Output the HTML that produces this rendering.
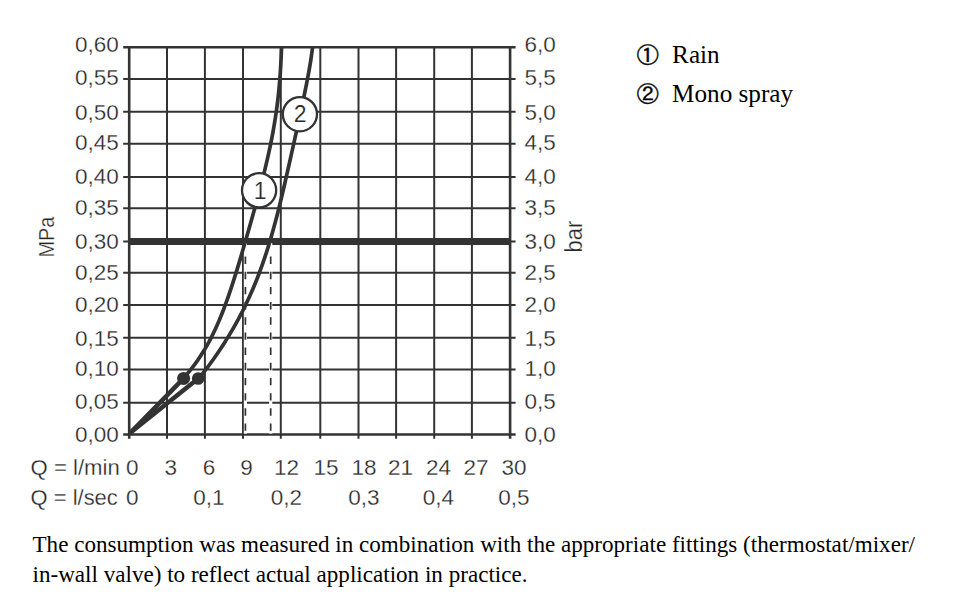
<!DOCTYPE html>
<html><head><meta charset="utf-8"><title>Chart</title>
<style>
html,body{margin:0;padding:0;background:#fff;width:960px;height:612px;overflow:hidden;position:relative}
.lg{position:absolute;left:636.6px;font-family:'Liberation Serif','DejaVu Serif',serif;font-size:25.2px;color:#000;white-space:nowrap;line-height:1}
.lg .n{display:inline-block;width:35.5px;font-family:'IPAGothic','Noto Sans CJK JP',sans-serif;font-size:22px;-webkit-text-stroke:0.4px #111}
.p{position:absolute;left:32.5px;top:528.9px;width:920px;font-family:'Liberation Serif','DejaVu Serif',serif;font-size:23.1px;line-height:30.4px;color:#000;margin:0}
</style></head><body>
<svg width="960" height="612" viewBox="0 0 960 612" style="position:absolute;left:0;top:0"><line x1="167.00" y1="47.30" x2="167.00" y2="438.85" stroke="#333" stroke-width="2"/><line x1="204.90" y1="47.30" x2="204.90" y2="438.85" stroke="#333" stroke-width="2"/><line x1="243.00" y1="47.30" x2="243.00" y2="438.85" stroke="#333" stroke-width="2"/><line x1="280.80" y1="47.30" x2="280.80" y2="438.85" stroke="#333" stroke-width="2"/><line x1="320.30" y1="47.30" x2="320.30" y2="438.85" stroke="#333" stroke-width="2"/><line x1="358.50" y1="47.30" x2="358.50" y2="438.85" stroke="#333" stroke-width="2"/><line x1="396.10" y1="47.30" x2="396.10" y2="438.85" stroke="#333" stroke-width="2"/><line x1="434.20" y1="47.30" x2="434.20" y2="438.85" stroke="#333" stroke-width="2"/><line x1="471.90" y1="47.30" x2="471.90" y2="438.85" stroke="#333" stroke-width="2"/><line x1="123.20" y1="78.90" x2="515.60" y2="78.90" stroke="#333" stroke-width="2"/><line x1="123.20" y1="111.80" x2="515.60" y2="111.80" stroke="#333" stroke-width="2"/><line x1="123.20" y1="143.70" x2="515.60" y2="143.70" stroke="#333" stroke-width="2"/><line x1="123.20" y1="176.90" x2="515.60" y2="176.90" stroke="#333" stroke-width="2"/><line x1="123.20" y1="208.20" x2="515.60" y2="208.20" stroke="#333" stroke-width="2"/><line x1="123.20" y1="241.50" x2="515.60" y2="241.50" stroke="#333" stroke-width="2"/><line x1="123.20" y1="272.80" x2="515.60" y2="272.80" stroke="#333" stroke-width="2"/><line x1="123.20" y1="305.00" x2="515.60" y2="305.00" stroke="#333" stroke-width="2"/><line x1="123.20" y1="337.80" x2="515.60" y2="337.80" stroke="#333" stroke-width="2"/><line x1="123.20" y1="369.60" x2="515.60" y2="369.60" stroke="#333" stroke-width="2"/><line x1="123.20" y1="402.80" x2="515.60" y2="402.80" stroke="#333" stroke-width="2"/><line x1="123.20" y1="47.30" x2="515.60" y2="47.30" stroke="#333" stroke-width="2.6"/><line x1="123.20" y1="434.55" x2="515.60" y2="434.55" stroke="#333" stroke-width="2.6"/><line x1="129.20" y1="46.00" x2="129.20" y2="438.85" stroke="#333" stroke-width="2.6"/><line x1="510.10" y1="46.00" x2="510.10" y2="438.85" stroke="#333" stroke-width="2.6"/><line x1="129.20" y1="241.5" x2="510.10" y2="241.5" stroke="#333" stroke-width="6.8"/><line x1="245.4" y1="243" x2="245.4" y2="433.6" stroke="#fff" stroke-width="3.2"/><line x1="245.4" y1="256.6" x2="245.4" y2="434.55" stroke="#333" stroke-width="1.7" stroke-dasharray="7.4 7.77"/><line x1="270.7" y1="243" x2="270.7" y2="433.6" stroke="#fff" stroke-width="3.2"/><line x1="270.7" y1="256.6" x2="270.7" y2="434.55" stroke="#333" stroke-width="1.7" stroke-dasharray="7.4 7.77"/><path d="M130.6,432.6 L183.6,378.4" stroke="#333" stroke-width="4.5" fill="none" stroke-linecap="round"/><path d="M130.6,432.6 L198.2,378.5" stroke="#333" stroke-width="4.5" fill="none" stroke-linecap="round"/><path d="M281.56,47.60 L281.44,50.61 L281.31,53.61 L281.18,56.62 L281.03,59.63 L280.88,62.64 L280.72,65.64 L280.54,68.65 L280.35,71.66 L280.15,74.67 L279.93,77.67 L279.70,80.68 L279.45,83.69 L279.19,86.69 L278.90,89.70 L278.60,92.71 L278.28,95.72 L277.95,98.72 L277.59,101.73 L277.22,104.74 L276.82,107.75 L276.41,110.75 L275.98,113.76 L275.53,116.77 L275.06,119.77 L274.57,122.78 L274.07,125.79 L273.55,128.80 L273.01,131.80 L272.45,134.81 L271.87,137.82 L271.28,140.83 L270.68,143.83 L270.05,146.84 L269.41,149.85 L268.76,152.85 L268.09,155.86 L267.41,158.87 L266.72,161.88 L266.01,164.88 L265.29,167.89 L264.57,170.90 L263.82,173.91 L263.07,176.91 L262.31,179.92 L261.54,182.93 L260.76,185.93 L259.98,188.94 L259.18,191.95 L258.38,194.96 L257.57,197.96 L256.76,200.97 L255.94,203.98 L255.12,206.99 L254.29,209.99 L253.45,213.00 L252.61,216.01 L251.77,219.01 L250.92,222.02 L250.07,225.03 L249.22,228.04 L248.36,231.04 L247.50,234.05 L246.64,237.06 L245.78,240.07 L244.91,243.07 L244.03,246.08 L243.15,249.09 L242.27,252.09 L241.39,255.10 L240.49,258.11 L239.60,261.12 L238.69,264.12 L237.78,267.13 L236.87,270.14 L235.94,273.15 L235.00,276.15 L234.05,279.16 L233.10,282.17 L232.12,285.17 L231.14,288.18 L230.13,291.19 L229.11,294.20 L228.08,297.20 L227.02,300.21 L225.93,303.22 L224.83,306.23 L223.69,309.23 L222.53,312.24 L221.33,315.25 L220.10,318.25 L218.84,321.26 L217.53,324.27 L216.19,327.28 L214.79,330.28 L213.35,333.29 L211.86,336.30 L210.31,339.31 L208.70,342.31 L207.03,345.32 L205.30,348.33 L203.49,351.33 L201.61,354.34 L199.65,357.35 L197.61,360.36 L195.47,363.36 L193.25,366.37 L190.92,369.38 L188.49,372.39 L185.96,375.39 L183.30,378.40" stroke="#333" stroke-width="3.7" fill="none" stroke-linejoin="round"/><path d="M312.51,47.60 L312.14,50.61 L311.74,53.62 L311.31,56.62 L310.86,59.63 L310.39,62.64 L309.89,65.65 L309.38,68.66 L308.85,71.67 L308.30,74.67 L307.74,77.68 L307.17,80.69 L306.59,83.70 L305.99,86.71 L305.38,89.71 L304.77,92.72 L304.15,95.73 L303.52,98.74 L302.89,101.75 L302.25,104.76 L301.60,107.76 L300.95,110.77 L300.30,113.78 L299.65,116.79 L298.99,119.80 L298.33,122.80 L297.67,125.81 L297.01,128.82 L296.35,131.83 L295.68,134.84 L295.02,137.85 L294.35,140.85 L293.69,143.86 L293.02,146.87 L292.35,149.88 L291.68,152.89 L291.02,155.89 L290.35,158.90 L289.67,161.91 L289.00,164.92 L288.33,167.93 L287.65,170.94 L286.97,173.94 L286.29,176.95 L285.60,179.96 L284.91,182.97 L284.21,185.98 L283.51,188.98 L282.81,191.99 L282.10,195.00 L281.38,198.01 L280.66,201.02 L279.92,204.03 L279.18,207.03 L278.43,210.04 L277.67,213.05 L276.90,216.06 L276.12,219.07 L275.32,222.07 L274.51,225.08 L273.69,228.09 L272.86,231.10 L272.01,234.11 L271.14,237.12 L270.26,240.12 L269.36,243.13 L268.44,246.14 L267.50,249.15 L266.54,252.16 L265.56,255.16 L264.56,258.17 L263.53,261.18 L262.48,264.19 L261.41,267.20 L260.32,270.21 L259.19,273.21 L258.05,276.22 L256.87,279.23 L255.67,282.24 L254.43,285.25 L253.17,288.25 L251.88,291.26 L250.55,294.27 L249.20,297.28 L247.81,300.29 L246.39,303.30 L244.94,306.30 L243.45,309.31 L241.93,312.32 L240.37,315.33 L238.78,318.34 L237.15,321.34 L235.48,324.35 L233.78,327.36 L232.04,330.37 L230.26,333.38 L228.45,336.39 L226.59,339.39 L224.70,342.40 L222.76,345.41 L220.79,348.42 L218.78,351.43 L216.73,354.43 L214.64,357.44 L212.51,360.45 L210.34,363.46 L208.14,366.47 L205.89,369.48 L203.60,372.48 L201.28,375.49 L198.92,378.50" stroke="#333" stroke-width="3.7" fill="none" stroke-linejoin="round"/><circle cx="183.6" cy="378.4" r="6.5" fill="#333"/><circle cx="198.2" cy="378.5" r="6.3" fill="#333"/><circle cx="259.1" cy="190.3" r="17.1" fill="#fff" stroke="#333" stroke-width="2.3"/><text x="260.1" y="198.5" text-anchor="middle" font-family="'Liberation Sans', 'DejaVu Sans', sans-serif" font-size="23" fill="#2a2a2a" stroke="#fff" stroke-width="0.2">1</text><circle cx="299.9" cy="114.2" r="17.1" fill="#fff" stroke="#333" stroke-width="2.3"/><text x="300.2" y="122.4" text-anchor="middle" font-family="'Liberation Sans', 'DejaVu Sans', sans-serif" font-size="23" fill="#2a2a2a" stroke="#fff" stroke-width="0.2">2</text><text x="118.9" y="52.40" text-anchor="end" font-family="'Liberation Sans', 'DejaVu Sans', sans-serif" font-size="22.5" fill="#262626" stroke="#fff" stroke-width="0.28">0,60</text><text x="118.9" y="84.60" text-anchor="end" font-family="'Liberation Sans', 'DejaVu Sans', sans-serif" font-size="22.5" fill="#262626" stroke="#fff" stroke-width="0.28">0,55</text><text x="118.9" y="119.55" text-anchor="end" font-family="'Liberation Sans', 'DejaVu Sans', sans-serif" font-size="22.5" fill="#262626" stroke="#fff" stroke-width="0.28">0,50</text><text x="118.9" y="150.05" text-anchor="end" font-family="'Liberation Sans', 'DejaVu Sans', sans-serif" font-size="22.5" fill="#262626" stroke="#fff" stroke-width="0.28">0,45</text><text x="118.9" y="183.90" text-anchor="end" font-family="'Liberation Sans', 'DejaVu Sans', sans-serif" font-size="22.5" fill="#262626" stroke="#fff" stroke-width="0.28">0,40</text><text x="118.9" y="214.55" text-anchor="end" font-family="'Liberation Sans', 'DejaVu Sans', sans-serif" font-size="22.5" fill="#262626" stroke="#fff" stroke-width="0.28">0,35</text><text x="118.9" y="248.90" text-anchor="end" font-family="'Liberation Sans', 'DejaVu Sans', sans-serif" font-size="22.5" fill="#262626" stroke="#fff" stroke-width="0.28">0,30</text><text x="118.9" y="280.10" text-anchor="end" font-family="'Liberation Sans', 'DejaVu Sans', sans-serif" font-size="22.5" fill="#262626" stroke="#fff" stroke-width="0.28">0,25</text><text x="118.9" y="311.70" text-anchor="end" font-family="'Liberation Sans', 'DejaVu Sans', sans-serif" font-size="22.5" fill="#262626" stroke="#fff" stroke-width="0.28">0,20</text><text x="118.9" y="346.30" text-anchor="end" font-family="'Liberation Sans', 'DejaVu Sans', sans-serif" font-size="22.5" fill="#262626" stroke="#fff" stroke-width="0.28">0,15</text><text x="118.9" y="376.40" text-anchor="end" font-family="'Liberation Sans', 'DejaVu Sans', sans-serif" font-size="22.5" fill="#262626" stroke="#fff" stroke-width="0.28">0,10</text><text x="118.9" y="408.80" text-anchor="end" font-family="'Liberation Sans', 'DejaVu Sans', sans-serif" font-size="22.5" fill="#262626" stroke="#fff" stroke-width="0.28">0,05</text><text x="118.9" y="442.05" text-anchor="end" font-family="'Liberation Sans', 'DejaVu Sans', sans-serif" font-size="22.5" fill="#262626" stroke="#fff" stroke-width="0.28">0,00</text><text x="524.4" y="52.40" font-family="'Liberation Sans', 'DejaVu Sans', sans-serif" font-size="22.5" fill="#262626" stroke="#fff" stroke-width="0.28">6,0</text><text x="524.4" y="84.60" font-family="'Liberation Sans', 'DejaVu Sans', sans-serif" font-size="22.5" fill="#262626" stroke="#fff" stroke-width="0.28">5,5</text><text x="524.4" y="119.55" font-family="'Liberation Sans', 'DejaVu Sans', sans-serif" font-size="22.5" fill="#262626" stroke="#fff" stroke-width="0.28">5,0</text><text x="524.4" y="150.05" font-family="'Liberation Sans', 'DejaVu Sans', sans-serif" font-size="22.5" fill="#262626" stroke="#fff" stroke-width="0.28">4,5</text><text x="524.4" y="183.90" font-family="'Liberation Sans', 'DejaVu Sans', sans-serif" font-size="22.5" fill="#262626" stroke="#fff" stroke-width="0.28">4,0</text><text x="524.4" y="214.55" font-family="'Liberation Sans', 'DejaVu Sans', sans-serif" font-size="22.5" fill="#262626" stroke="#fff" stroke-width="0.28">3,5</text><text x="524.4" y="248.90" font-family="'Liberation Sans', 'DejaVu Sans', sans-serif" font-size="22.5" fill="#262626" stroke="#fff" stroke-width="0.28">3,0</text><text x="524.4" y="280.10" font-family="'Liberation Sans', 'DejaVu Sans', sans-serif" font-size="22.5" fill="#262626" stroke="#fff" stroke-width="0.28">2,5</text><text x="524.4" y="311.70" font-family="'Liberation Sans', 'DejaVu Sans', sans-serif" font-size="22.5" fill="#262626" stroke="#fff" stroke-width="0.28">2,0</text><text x="524.4" y="346.30" font-family="'Liberation Sans', 'DejaVu Sans', sans-serif" font-size="22.5" fill="#262626" stroke="#fff" stroke-width="0.28">1,5</text><text x="524.4" y="376.40" font-family="'Liberation Sans', 'DejaVu Sans', sans-serif" font-size="22.5" fill="#262626" stroke="#fff" stroke-width="0.28">1,0</text><text x="524.4" y="408.80" font-family="'Liberation Sans', 'DejaVu Sans', sans-serif" font-size="22.5" fill="#262626" stroke="#fff" stroke-width="0.28">0,5</text><text x="524.4" y="442.05" font-family="'Liberation Sans', 'DejaVu Sans', sans-serif" font-size="22.5" fill="#262626" stroke="#fff" stroke-width="0.28">0,0</text><text x="30.6" y="474.6" textLength="89.2" lengthAdjust="spacingAndGlyphs" font-family="'Liberation Sans', 'DejaVu Sans', sans-serif" font-size="22.5" fill="#262626" stroke="#fff" stroke-width="0.28">Q = l/min</text><text x="132.3" y="474.6" text-anchor="middle" font-family="'Liberation Sans', 'DejaVu Sans', sans-serif" font-size="22.5" fill="#262626" stroke="#fff" stroke-width="0.28">0</text><text x="170.8" y="474.6" text-anchor="middle" font-family="'Liberation Sans', 'DejaVu Sans', sans-serif" font-size="22.5" fill="#262626" stroke="#fff" stroke-width="0.28">3</text><text x="209.0" y="474.6" text-anchor="middle" font-family="'Liberation Sans', 'DejaVu Sans', sans-serif" font-size="22.5" fill="#262626" stroke="#fff" stroke-width="0.28">6</text><text x="246.6" y="474.6" text-anchor="middle" font-family="'Liberation Sans', 'DejaVu Sans', sans-serif" font-size="22.5" fill="#262626" stroke="#fff" stroke-width="0.28">9</text><text x="286.5" y="474.6" text-anchor="middle" font-family="'Liberation Sans', 'DejaVu Sans', sans-serif" font-size="22.5" fill="#262626" stroke="#fff" stroke-width="0.28">12</text><text x="326.0" y="474.6" text-anchor="middle" font-family="'Liberation Sans', 'DejaVu Sans', sans-serif" font-size="22.5" fill="#262626" stroke="#fff" stroke-width="0.28">15</text><text x="364.0" y="474.6" text-anchor="middle" font-family="'Liberation Sans', 'DejaVu Sans', sans-serif" font-size="22.5" fill="#262626" stroke="#fff" stroke-width="0.28">18</text><text x="400.4" y="474.6" text-anchor="middle" font-family="'Liberation Sans', 'DejaVu Sans', sans-serif" font-size="22.5" fill="#262626" stroke="#fff" stroke-width="0.28">21</text><text x="438.5" y="474.6" text-anchor="middle" font-family="'Liberation Sans', 'DejaVu Sans', sans-serif" font-size="22.5" fill="#262626" stroke="#fff" stroke-width="0.28">24</text><text x="476.0" y="474.6" text-anchor="middle" font-family="'Liberation Sans', 'DejaVu Sans', sans-serif" font-size="22.5" fill="#262626" stroke="#fff" stroke-width="0.28">27</text><text x="514.0" y="474.6" text-anchor="middle" font-family="'Liberation Sans', 'DejaVu Sans', sans-serif" font-size="22.5" fill="#262626" stroke="#fff" stroke-width="0.28">30</text><text x="30.6" y="505.1" textLength="87.2" lengthAdjust="spacingAndGlyphs" font-family="'Liberation Sans', 'DejaVu Sans', sans-serif" font-size="22.5" fill="#262626" stroke="#fff" stroke-width="0.28">Q = l/sec</text><text x="132.3" y="505.1" text-anchor="middle" font-family="'Liberation Sans', 'DejaVu Sans', sans-serif" font-size="22.5" fill="#262626" stroke="#fff" stroke-width="0.28">0</text><text x="209.0" y="505.1" text-anchor="middle" font-family="'Liberation Sans', 'DejaVu Sans', sans-serif" font-size="22.5" fill="#262626" stroke="#fff" stroke-width="0.28">0,1</text><text x="286.5" y="505.1" text-anchor="middle" font-family="'Liberation Sans', 'DejaVu Sans', sans-serif" font-size="22.5" fill="#262626" stroke="#fff" stroke-width="0.28">0,2</text><text x="364.0" y="505.1" text-anchor="middle" font-family="'Liberation Sans', 'DejaVu Sans', sans-serif" font-size="22.5" fill="#262626" stroke="#fff" stroke-width="0.28">0,3</text><text x="438.5" y="505.1" text-anchor="middle" font-family="'Liberation Sans', 'DejaVu Sans', sans-serif" font-size="22.5" fill="#262626" stroke="#fff" stroke-width="0.28">0,4</text><text x="514.0" y="505.1" text-anchor="middle" font-family="'Liberation Sans', 'DejaVu Sans', sans-serif" font-size="22.5" fill="#262626" stroke="#fff" stroke-width="0.28">0,5</text><text transform="translate(54.2,237.2) rotate(-90)" text-anchor="middle" textLength="40.8" lengthAdjust="spacingAndGlyphs" font-family="'Liberation Sans', 'DejaVu Sans', sans-serif" font-size="22.5" fill="#262626" stroke="#fff" stroke-width="0.28">MPa</text><text transform="translate(582.0,236.6) rotate(-90)" text-anchor="middle" textLength="31.6" lengthAdjust="spacingAndGlyphs" font-family="'Liberation Sans', 'DejaVu Sans', sans-serif" font-size="23.5" fill="#262626" stroke="#fff" stroke-width="0.28">bar</text></svg>
<div class="lg" style="top:41.8px"><span class="n">&#9312;</span>Rain</div>
<div class="lg" style="top:80.8px"><span class="n">&#9313;</span>Mono spray</div>
<p class="p">The consumption was measured in combination with the appropriate fittings (thermostat/mixer/<br>in-wall valve) to reflect actual application in practice.</p>
</body></html>
